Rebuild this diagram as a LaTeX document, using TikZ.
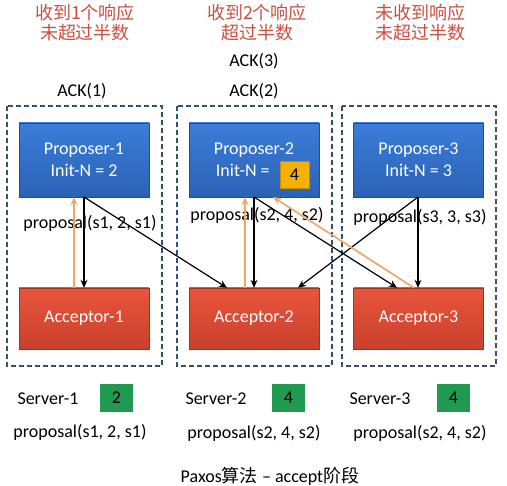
\documentclass[tikz,border=0pt]{standalone}
\usepackage{fontspec}
\setmainfont{Carlito}
\newfontfamily\cjk{Noto Sans CJK SC}
\usetikzlibrary{arrows.meta}
\definecolor{pblue}{HTML}{3B7DD8}
\definecolor{pbluedark}{HTML}{2B62B5}
\definecolor{ared}{HTML}{E8553C}
\definecolor{areddark}{HTML}{C9402C}
\definecolor{ybox}{HTML}{F6B100}
\definecolor{gbox}{HTML}{1F9A50}
\definecolor{oarrow}{HTML}{F2A66A}
\definecolor{dashc}{HTML}{34506E}
\definecolor{topred}{HTML}{CB4F40}
\begin{document}
\begin{tikzpicture}[x=1pt,y=-1pt,
  every node/.style={font=\fontsize{18}{20}\selectfont},
  group/.style={draw=dashc,dashed,line width=1.1pt,dash pattern=on 5pt off 3pt},
  propbox/.style={draw=pbluedark!80!black,top color=pblue,bottom color=pbluedark,text=white,minimum width=130pt,minimum height=74pt,inner sep=0pt,align=center,font=\fontsize{18}{22}\selectfont},
  accbox/.style={draw=areddark!80!black,top color=ared,bottom color=areddark,text=white,minimum width=130pt,minimum height=61pt,inner sep=0pt,font=\fontsize{18}{20}\selectfont},
  numbox/.style={fill=gbox,minimum width=33pt,minimum height=28pt,inner sep=0pt,font=\fontsize{18}{20}\selectfont},
  send/.style={-{Stealth[length=8pt,width=7pt]},line width=1.2pt,black},
  reply/.style={-{Stealth[length=8pt,width=7pt]},line width=1.7pt,oarrow},
  toplabel/.style={text=topred,align=center,font=\cjk\fontsize{18}{20}\selectfont},
  plabel/.style={font=\fontsize{18}{20}\selectfont}]
\useasboundingbox (0,0) rectangle (507,486);
% groups
\draw[group] (7,106) rectangle (162,366);
\draw[group] (177,106) rectangle (332,366);
\draw[group] (342,106) rectangle (496,366);
% top labels
\node[toplabel] (t1) at (85,23) {收到1个响应\\未超过半数};
\node[toplabel] (t2) at (257,23) {收到2个响应\\超过半数};
\node[toplabel] (t3) at (420,23) {未收到响应\\未超过半数};
\node (ack3) at (254,61) {ACK(3)};
\node (ack1) at (82,91) {ACK(1)};
\node (ack2) at (254,91) {ACK(2)};
% proposers
\node[propbox] (p1) at (84,160) {Proposer-1\\Init-N = 2};
\node[propbox] (p2) at (254,160) {Proposer-2\\Init-N = \phantom{44}};
\node[propbox] (p3) at (418.5,160) {Proposer-3\\Init-N = 3};
\node[fill=ybox,draw=ybox!80!black,minimum width=29pt,minimum height=27pt,inner sep=0pt,text=black] (n4) at (294.5,174.5) {4};
% acceptors
\node[accbox] (a1) at (84,318.5) {Acceptor-1};
\node[accbox] (a2) at (254,318.5) {Acceptor-2};
\node[accbox] (a3) at (418.5,318.5) {Acceptor-3};
% coordinates on borders
\coordinate (p1s) at (84,197);
\coordinate (p2s) at (254,197);
\coordinate (p3s) at (418,197);
% proposal labels
\node[plabel] (l1) at (90,223) {proposal(s1, 2, s1)};
\node[plabel] (l2) at (257,215) {proposal(s2, 4, s2)};
\node[plabel] (l3) at (420,217) {proposal(s3, 3, s3)};
% send arrows
\draw[send] (p1s) -- (a1.north -| p1s);
\draw[send] (p1s) -- (a2.north -| 227,0);
\draw[send] (p2s) -- (a2.north -| p2s);
\draw[send] (p2s) -- (a3.north -| 397,0);
\draw[send] (p3s) -- (a3.north -| p3s);
\draw[send] (p3s) -- (a2.north -| 298,0);
% replies
\draw[reply] (a1.north -| 74,0) -- (p1.south -| 74,0);
\draw[reply] (a2.north -| 245,0) -- (p2.south -| 245,0);
\draw[reply] (a3.north -| 414,0) -- (273,197);
% servers
\node (s1) at (48,399) {Server-1};
\node[numbox] (b1) at (116.5,398) {2};
\node (s2) at (216,399) {Server-2};
\node[numbox] (b2) at (288.5,398) {4};
\node (s3) at (380,399) {Server-3};
\node[numbox] (b3) at (453.5,398) {4};
\node (q1) at (80,432) {proposal(s1, 2, s1)};
\node (q2) at (254,433) {proposal(s2, 4, s2)};
\node (q3) at (420,433) {proposal(s2, 4, s2)};
\node (cap) at (270,476) {Paxos{\cjk 算法} – accept{\cjk 阶段}};
\end{tikzpicture}
\end{document}
